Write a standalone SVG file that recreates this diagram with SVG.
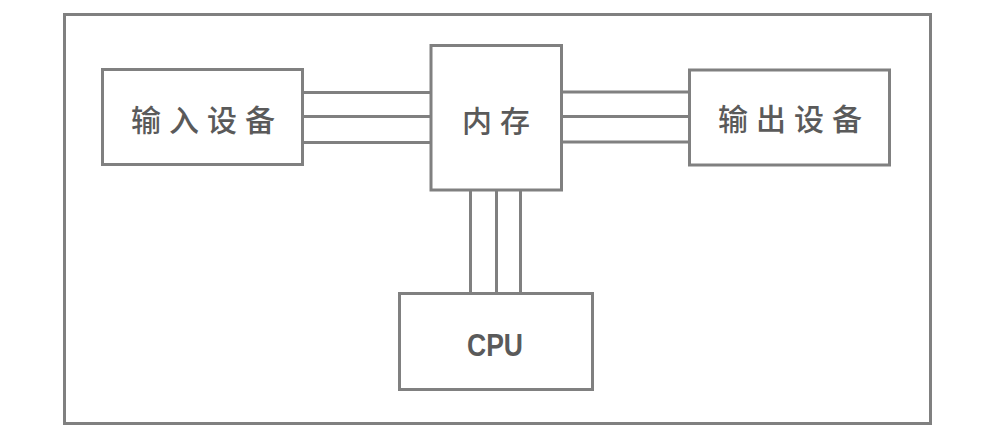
<svg xmlns="http://www.w3.org/2000/svg" width="990" height="437" viewBox="0 0 990 437">
<style>
.box{fill:#fff;stroke:#808080;stroke-width:3}
.ln{stroke:#808080;stroke-width:3;fill:none}
.cn{font-family:"Noto Sans CJK SC","Noto Sans CJK JP",sans-serif;font-size:30px;font-weight:500;fill:#5a5a5a;letter-spacing:8px;text-anchor:middle;dominant-baseline:central}
.en{font-family:"Liberation Sans",Arial,sans-serif;font-size:32px;font-weight:bold;fill:#5a5a5a;text-anchor:middle}
</style>
<rect x="0" y="0" width="990" height="437" fill="#fff"/>
<rect id="frame" class="box" x="64.5" y="14.5" width="866" height="409" fill="none"/>
<g id="connectors">
<line class="ln" x1="302" y1="92.5" x2="431" y2="92.5"/>
<line class="ln" x1="302" y1="116.5" x2="431" y2="116.5"/>
<line class="ln" x1="302" y1="142.5" x2="431" y2="142.5"/>
<line class="ln" x1="561" y1="92" x2="690" y2="92"/>
<line class="ln" x1="561" y1="116.5" x2="690" y2="116.5"/>
<line class="ln" x1="561" y1="142" x2="690" y2="142"/>
<line class="ln" x1="470.5" y1="190" x2="470.5" y2="294"/>
<line class="ln" x1="496.5" y1="190" x2="496.5" y2="294"/>
<line class="ln" x1="520.5" y1="190" x2="520.5" y2="294"/>
</g>
<g id="input">
<rect class="box" x="102.5" y="69.5" width="200" height="95"/>
<text class="cn" x="207" y="118">输入设备</text>
</g>
<g id="memory">
<rect class="box" x="431" y="45.5" width="130.5" height="144.5"/>
<text class="cn" x="500" y="119">内存</text>
</g>
<g id="output">
<rect class="box" x="689.5" y="70" width="200" height="95"/>
<text class="cn" x="794" y="117">输出设备</text>
</g>
<g id="cpu">
<rect class="box" x="399.5" y="293.5" width="193" height="96"/>
<text class="en" x="495" y="356" textLength="56" lengthAdjust="spacingAndGlyphs">CPU</text>
</g>
</svg>
